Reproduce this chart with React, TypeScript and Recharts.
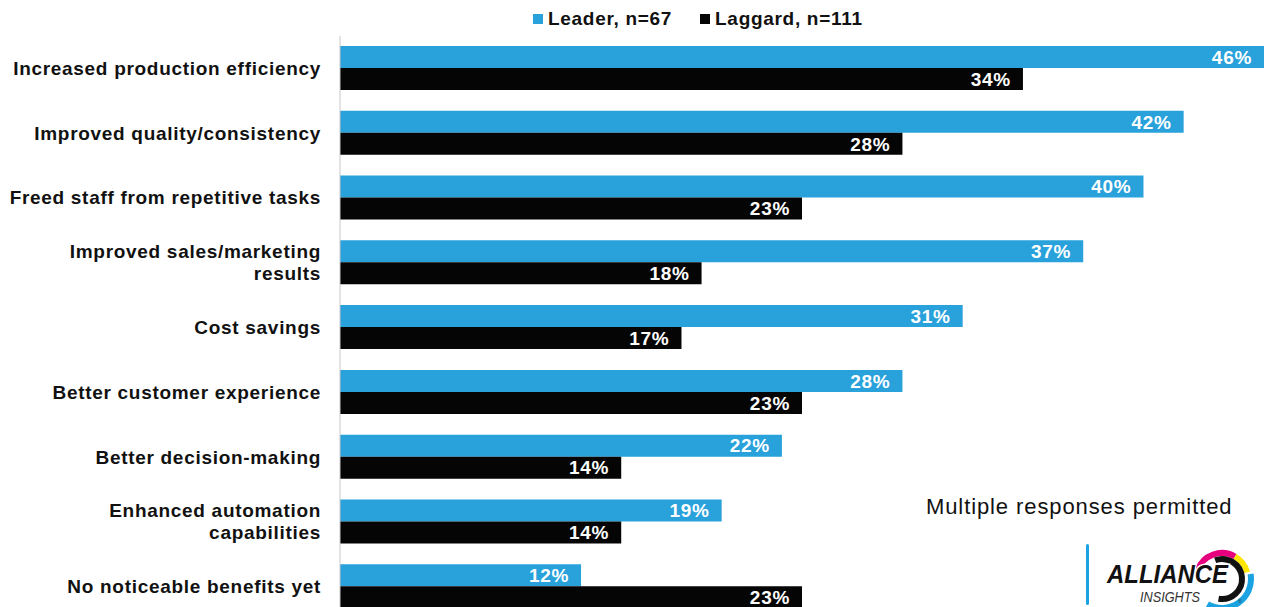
import { Bar, BarChart, LabelList, XAxis, YAxis } from "recharts";

const categories = [
  "Increased production efficiency",
  "Improved quality/consistency",
  "Freed staff from repetitive tasks",
  "Improved sales/marketing\nresults",
  "Cost savings",
  "Better customer experience",
  "Better decision-making",
  "Enhanced automation\ncapabilities",
  "No noticeable benefits yet",
];
const leaderValues = [46, 42, 40, 37, 31, 28, 22, 19, 12];
const laggardValues = [34, 28, 23, 18, 17, 23, 14, 14, 23];
const seriesNames = ["Leader, n=67", "Laggard, n=111"];

const BLUE = "#29a1db";
const BLACK = "#050505";
const FONT = "'Liberation Sans', Arial, sans-serif";

const chartData = categories.map((name, i) => ({
  name,
  leader: leaderValues[i],
  laggard: laggardValues[i],
}));

function CategoryTick(props: any) {
  const { x, y, payload } = props;
  const lines = String(payload.value).split("\n");
  const lineHeight = 22;
  const start = -((lines.length - 1) * lineHeight) / 2;
  return (
    <text
      x={x}
      y={y}
      textAnchor="end"
      fill="#111"
      fontFamily={FONT}
      fontSize={19}
      fontWeight="bold"
      letterSpacing={0.7}
    >
      {lines.map((line, i) => (
        <tspan key={i} x={x} dy={i === 0 ? start + 6.5 : lineHeight}>
          {line}
        </tspan>
      ))}
    </text>
  );
}

function ChartLegend() {
  const colors = [BLUE, BLACK];
  return (
    <div
      style={{
        position: "absolute",
        left: 533,
        top: 8,
        display: "flex",
        alignItems: "center",
        gap: 28,
        fontFamily: FONT,
      }}
    >
      {seriesNames.map((s, i) => (
        <div key={s} style={{ display: "flex", alignItems: "center", gap: 5 }}>
          <span style={{ width: 10, height: 10, background: colors[i], display: "inline-block" }} />
          <span style={{ fontSize: 19, fontWeight: "bold", letterSpacing: 0.7, color: "#111" }}>{s}</span>
        </div>
      ))}
    </div>
  );
}

function arcPath(cx: number, cy: number, r: number, a0: number, a1: number) {
  const rad = (a: number) => (a * Math.PI) / 180;
  const x0 = cx + r * Math.cos(rad(a0));
  const y0 = cy + r * Math.sin(rad(a0));
  const x1 = cx + r * Math.cos(rad(a1));
  const y1 = cy + r * Math.sin(rad(a1));
  const large = Math.abs(a1 - a0) > 180 ? 1 : 0;
  return `M${x0},${y0} A${r},${r} 0 ${large} 1 ${x1},${y1}`;
}

function Logo() {
  const cx = 142;
  const cy = 39;
  return (
    <svg width={186} height={67} style={{ position: "absolute", left: 1080, top: 540 }}>
      <rect x={6} y={4} width={3} height={61} rx={1.5} fill="#1aa3e0" />
      <path d={arcPath(cx, cy, 26, -160, -60)} stroke="#e6007e" strokeWidth={6} fill="none" />
      <path d={arcPath(cx, cy, 26, -60, -15)} stroke="#ffe600" strokeWidth={6} fill="none" />
      <path d={arcPath(cx, cy, 20, -110, 100)} stroke="#111" strokeWidth={6} fill="none" />
      <path d={arcPath(cx, cy, 29, -10, 120)} stroke="#1aa3e0" strokeWidth={6} fill="none" />
      <text
        x={27}
        y={43}
        fontFamily={FONT}
        fontSize={25}
        fontWeight="bold"
        fontStyle="italic"
        textLength={121}
        lengthAdjust="spacingAndGlyphs"
        fill="#111"
        stroke="#fff"
        strokeWidth={3}
        paintOrder="stroke"
      >
        ALLIANCE
      </text>
      <text
        x={60}
        y={62}
        fontFamily={FONT}
        fontSize={14}
        fontStyle="italic"
        textLength={60}
        lengthAdjust="spacingAndGlyphs"
        fill="#333"
      >
        INSIGHTS
      </text>
      <text x={158} y={63} fontFamily={FONT} fontSize={5} fill="#333">
        ®
      </text>
    </svg>
  );
}

export default function App() {
  return (
    <div
      style={{
        position: "absolute",
        left: 0,
        top: 0,
        width: 1266,
        height: 607,
        overflow: "hidden",
        background: "#fff",
      }}
    >
      <ChartLegend />
      <BarChart
        width={1266}
        height={623}
        data={chartData}
        layout="vertical"
        margin={{ top: 36, right: 2, left: 0, bottom: 4 }}
        barGap={0}
      >
        <XAxis type="number" domain={[0, 46]} hide />
        <YAxis
          type="category"
          dataKey="name"
          width={340}
          axisLine={{ stroke: "#c8c8c8" }}
          tickLine={false}
          tickSize={0}
          tickMargin={19}
          tick={<CategoryTick />}
          interval={0}
        />
        <Bar dataKey="leader" name={seriesNames[0]} fill={BLUE} barSize={22} isAnimationActive={false}>
          <LabelList
            dataKey="leader"
            position="insideRight"
            offset={12}
            fill="#fff"
            fontFamily={FONT}
            fontSize={19}
            fontWeight="bold"
            letterSpacing={0.7}
            formatter={(v: any) => `${v}%`}
          />
        </Bar>
        <Bar dataKey="laggard" name={seriesNames[1]} fill={BLACK} barSize={22} isAnimationActive={false}>
          <LabelList
            dataKey="laggard"
            position="insideRight"
            offset={12}
            fill="#fff"
            fontFamily={FONT}
            fontSize={19}
            fontWeight="bold"
            letterSpacing={0.7}
            formatter={(v: any) => `${v}%`}
          />
        </Bar>
      </BarChart>
      <div
        style={{
          position: "absolute",
          left: 926,
          top: 494,
          fontFamily: FONT,
          fontSize: 22,
          letterSpacing: 0.9,
          color: "#111",
          whiteSpace: "nowrap",
        }}
      >
        Multiple responses permitted
      </div>
      <Logo />
    </div>
  );
}
